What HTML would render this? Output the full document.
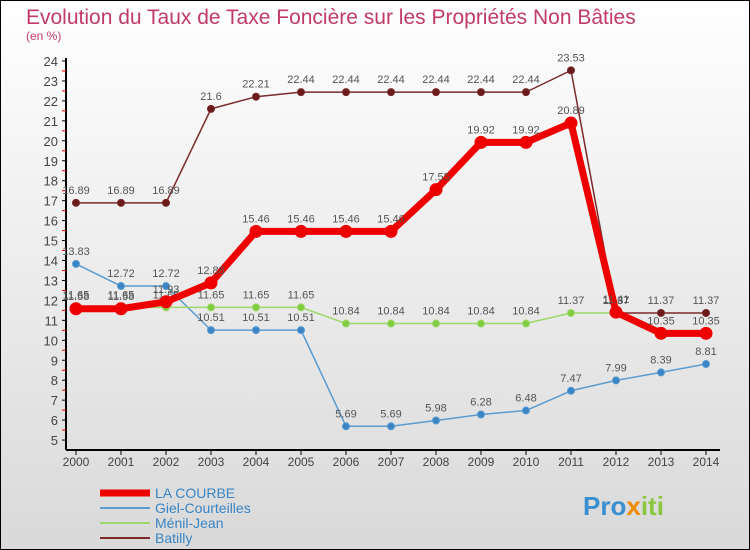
<!DOCTYPE html>
<html><head><meta charset="utf-8"><style>
body{margin:0;}
#c{width:750px;height:550px;position:relative;overflow:hidden;font-family:"Liberation Sans",sans-serif;}
</style></head><body>
<div id="c">
<svg id="s" width="750" height="550" xmlns="http://www.w3.org/2000/svg">
<defs><linearGradient id="bg" x1="0" y1="0" x2="0" y2="1"><stop offset="0" stop-color="#ffffff"/><stop offset="1" stop-color="#d9d9d9"/></linearGradient></defs>
<rect x="0.5" y="0.5" width="749" height="549" fill="url(#bg)" stroke="#000"/>
<text x="26" y="24" font-size="21" fill="#c03a6a">Evolution du Taux de Taxe Foncière sur les Propriétés Non Bâties</text>
<text x="26" y="40" font-size="12" fill="#c03a6a">(en %)</text>
<g id="axes"></g><g id="series"></g><g id="legend"></g>
<text x="583" y="515" font-size="26" font-weight="bold" fill="#3a8fd0">Pro<tspan fill="#f08a00">x</tspan><tspan fill="#8cc63f">iti</tspan></text>
</svg></div>
<script>
const years=[2000,2001,2002,2003,2004,2005,2006,2007,2008,2009,2010,2011,2012,2013,2014];
const yTicks=[5,6,7,8,9,10,11,12,13,14,15,16,17,18,19,20,21,22,23,24];
const laCourbe=[11.58,11.58,11.93,12.88,15.46,15.46,15.46,15.46,17.55,19.92,19.92,20.89,11.41,10.35,10.35];
const giel=[13.83,12.72,12.72,10.51,10.51,10.51,5.69,5.69,5.98,6.28,6.48,7.47,7.99,8.39,8.81];
const menil=[11.65,11.65,11.65,11.65,11.65,11.65,10.84,10.84,10.84,10.84,10.84,11.37,11.37];
const batilly=[16.89,16.89,16.89,21.6,22.21,22.44,22.44,22.44,22.44,22.44,22.44,23.53,11.37,11.37,11.37];
const NS="http://www.w3.org/2000/svg";
const X=i=>76+i*45.0, Y=v=>61+(24-v)*19.95;
function mk(p,t,a){const e=document.createElementNS(NS,t);for(const k in a)e.setAttribute(k,a[k]);p.appendChild(e);return e;}
const ax=document.getElementById('axes');
mk(ax,'line',{x1:66,y1:58,x2:66,y2:450,stroke:'#000','stroke-width':2});
mk(ax,'line',{x1:66,y1:450,x2:720,y2:450,stroke:'#000','stroke-width':2});
yTicks.forEach(v=>{
 mk(ax,'line',{x1:62,y1:Y(v),x2:66,y2:Y(v),stroke:'#000'});
 if(v<24)mk(ax,'line',{x1:62,y1:Y(v+0.5),x2:66,y2:Y(v+0.5),stroke:'#e00'});
 const t=mk(ax,'text',{x:58,y:Y(v)+5,'text-anchor':'end','font-size':13,fill:'#444'});t.textContent=v;
 
 
});
years.forEach((y,i)=>{
 mk(ax,'line',{x1:X(i),y1:450,x2:X(i),y2:455,stroke:'#000'});
 const t=mk(ax,'text',{x:X(i),y:466,'text-anchor':'middle','font-size':12,fill:'#444'});t.textContent=y;
 
 
});
const sg=document.getElementById('series');
function draw(name,data,color,w,r,fill,lblOff){
 const g=mk(sg,'g',{});
 
 
 mk(g,'polyline',{points:data.map((v,i)=>X(i)+','+Y(v)).join(' '),fill:'none',stroke:color,'stroke-width':w,'stroke-linejoin':'round'});
 data.forEach((v,i)=>{
  const c=mk(g,'circle',{cx:X(i),cy:Y(v),r:r,fill:fill,stroke:color,'stroke-width':1});
  
  
  const t=mk(g,'text',{x:X(i),y:Y(v)+lblOff,'text-anchor':'middle','font-size':11,fill:'#555'});t.textContent=v;
  
  
 });
}
draw('batilly',batilly,'#7a2a2a',1.5,3.5,'#6a1a1a',-9);
draw('giel-courteilles',giel,'#5a9bd0',1.5,3.5,'#3a85c5',-9);
draw('menil-jean',menil,'#9cd86a',1.5,3.5,'#80cc40',-9);
draw('la-courbe',laCourbe,'#ee0000',7,6,'#ee0000',-9);
const lg=document.getElementById('legend');
const items=[['LA COURBE','#ee0000',7],['Giel-Courteilles','#5a9bd0',2],['Ménil-Jean','#9cd86a',2],['Batilly','#7a2a2a',2]];
items.forEach((it,i)=>{
 const y=493+i*15;
 const g=mk(lg,'g',{});
 
 
 mk(g,'line',{x1:100,y1:y,x2:150,y2:y,stroke:it[1],'stroke-width':it[2]});
 const t=mk(g,'text',{x:155,y:y+5,'font-size':14,fill:'#3a85c5'});t.textContent=it[0];
});
</script>
</body></html>
